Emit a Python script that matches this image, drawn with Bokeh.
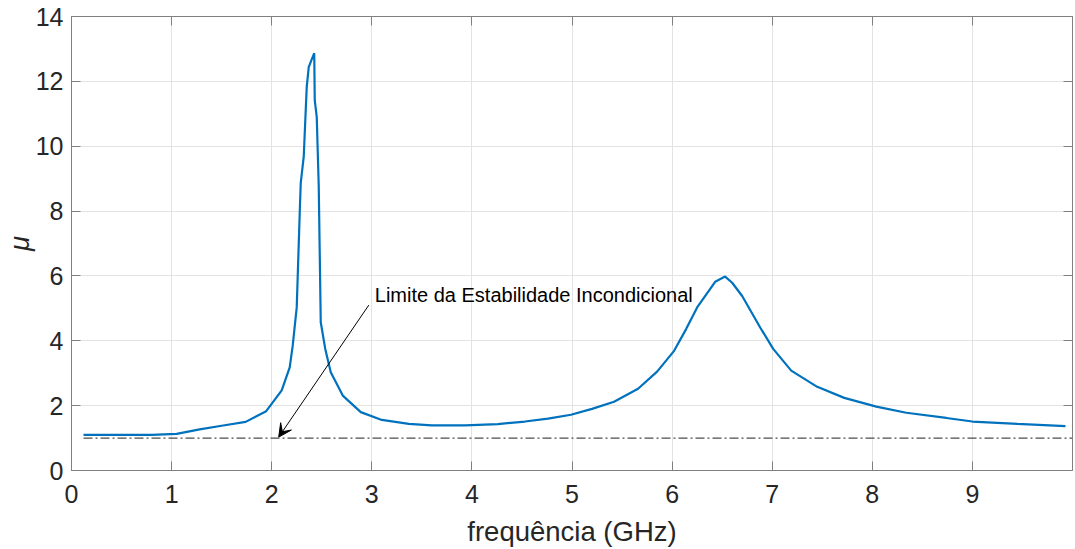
from bokeh.plotting import figure
from bokeh.models import Range1d, LinearAxis, FixedTicker, Arrow, VeeHead, Label
from bokeh.embed import file_html
from bokeh.resources import INLINE

# ---- data ----
freq = [0.12, 0.5, 0.8, 1.05, 1.28, 1.5, 1.74, 1.945, 2.10, 2.18, 2.21, 2.25,
        2.28, 2.29, 2.32, 2.35, 2.37, 2.39, 2.425, 2.43, 2.45, 2.47, 2.49,
        2.535, 2.59, 2.71, 2.89, 3.10, 3.37, 3.60, 3.93, 4.26, 4.53, 4.76,
        4.99, 5.2, 5.42, 5.66, 5.85, 6.02, 6.14, 6.25, 6.43, 6.53, 6.6, 6.70,
        6.88, 7.01, 7.19, 7.45, 7.72, 8.04, 8.34, 8.74, 9.0, 9.45, 9.93]
mu = [1.1, 1.1, 1.1, 1.13, 1.27, 1.38, 1.5, 1.83, 2.47, 3.18, 3.85, 5.03,
      7.94, 8.86, 9.68, 11.83, 12.44, 12.6, 12.87, 11.42, 10.9, 8.76, 4.57,
      3.75, 3.03, 2.31, 1.8, 1.56, 1.44, 1.39, 1.39, 1.43, 1.51, 1.6,
      1.72, 1.9, 2.12, 2.52, 3.05, 3.69, 4.36, 5.03, 5.82, 5.98, 5.79, 5.38,
      4.41, 3.75, 3.08, 2.58, 2.24, 1.97, 1.78, 1.62, 1.51, 1.44, 1.37]
limit_x = [0.12, 10.0]
limit_y = [1.0, 1.0]
x_ticks = list(range(0, 11))
y_ticks = list(range(0, 15, 2))
annotation_text = "Limite da Estabilidade Incondicional"
x_label = "frequência (GHz)"
y_label = "μ"

FONT = "Liberation Sans"
AXIS_COLOR = "#808080"
TEXT_COLOR = "#262626"

p = figure(width=1075, height=549, x_range=Range1d(0, 10), y_range=Range1d(0, 14),
           output_backend="svg", toolbar_location=None,
           min_border_left=71, min_border_right=3, min_border_top=16,
           min_border_bottom=77, x_axis_location=None, y_axis_location=None)
p.background_fill_color = "white"
p.border_fill_color = "white"
p.outline_line_color = AXIS_COLOR
p.outline_line_width = 1

def style_axis(ax, ticks, show_labels):
    ax.axis_line_color = AXIS_COLOR
    ax.major_tick_line_color = AXIS_COLOR
    ax.major_tick_in = 9
    ax.major_tick_out = 0
    ax.minor_tick_line_color = None
    if show_labels:
        ax.major_label_text_font = FONT
        ax.major_label_text_font_size = "25px"
        ax.major_label_text_color = TEXT_COLOR
        ax.axis_label_text_font = FONT
        ax.axis_label_text_font_size = "27.5px"
        ax.axis_label_text_color = TEXT_COLOR
        ax.axis_label_text_font_style = "normal"
    else:
        ax.major_label_text_font_size = "0px"
        ax.major_label_standoff = 0
        ax.major_label_overrides = {t: "" for t in ticks}

# bottom axis: the last label (10) is drawn separately so it does not
# push the frame inwards (it is cut by the window edge in the reference)
xb = LinearAxis(ticker=FixedTicker(ticks=x_ticks[:-1]), axis_label=x_label)
style_axis(xb, x_ticks, True)
xb.major_label_standoff = 14
xb.axis_label_standoff = 10
p.add_layout(xb, "below")

xt = LinearAxis(ticker=FixedTicker(ticks=x_ticks))
style_axis(xt, x_ticks, False)
p.add_layout(xt, "above")

yl = LinearAxis(ticker=FixedTicker(ticks=y_ticks), axis_label=y_label)
style_axis(yl, y_ticks, True)
yl.major_label_standoff = 8
yl.axis_label_standoff = -2
yl.axis_label_text_font_style = "italic"
p.add_layout(yl, "left")

yr = LinearAxis(ticker=FixedTicker(ticks=y_ticks))
style_axis(yr, y_ticks, False)
p.add_layout(yr, "right")

p.xgrid.ticker = FixedTicker(ticks=x_ticks)
p.ygrid.ticker = FixedTicker(ticks=y_ticks)
p.xgrid.grid_line_color = "#e3e3e3"
p.ygrid.grid_line_color = "#e3e3e3"
p.xgrid.grid_line_width = 1
p.ygrid.grid_line_width = 1

# last x tick label, at the x=10 tick position (below the frame)
p.add_layout(Label(x=x_ticks[-1], x_units="data", y=-25, y_units="screen",
                   x_offset=-12,
                   text=str(x_ticks[-1]), text_font=FONT, text_font_size="25px",
                   text_color=TEXT_COLOR, text_align="left",
                   text_baseline="middle", level="overlay"))

# dash-dot stability limit
p.line(limit_x, limit_y, line_color="#4d4d4d", line_width=1.2, line_dash="9 3 2 3")

# main curve
p.line(freq, mu, line_color="#0072BD", line_width=2.2)

# annotation arrow + text
p.add_layout(Arrow(end=VeeHead(size=13, fill_color="black", line_color="black"),
                   x_start=2.97, y_start=5.1, x_end=2.07, y_end=1.03,
                   line_color="black", line_width=1))
p.add_layout(Label(x=3.03, y=5.41, text=annotation_text, text_font=FONT,
                   text_font_size="20px", text_color="black",
                   text_baseline="alphabetic", text_align="left"))

open("out.html", "w").write(file_html(p, INLINE))
